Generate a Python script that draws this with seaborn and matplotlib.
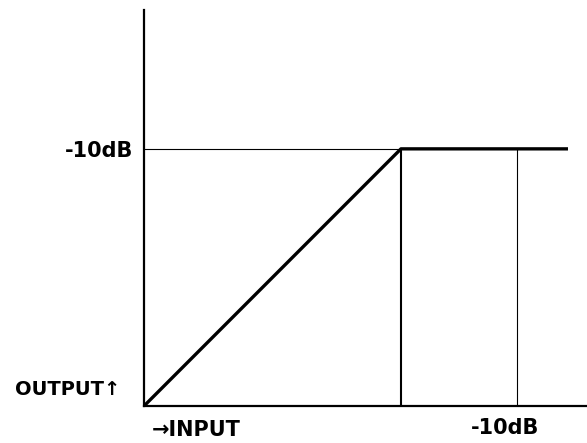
import numpy as np
import matplotlib
matplotlib.use("Agg")
import matplotlib.pyplot as plt
import pandas as pd
import seaborn as sns

# Caractéristique du limiteur (unités arbitraires, coude à -10dB)
input_pts = [0, 10, 16.5]
output_pts = [0, 10, 10]
limit_level = 10
knee_input = 10
marker_input = 14.5
x_max = 17.24
y_max = 15.4
level_label = "-10dB"
x_label = "\u2192INPUT"
y_label = "OUTPUT\u2191"

sns.set_style("white")
plt.rcParams['font.family'] = ['DejaVu Sans']
plt.rcParams['text.color'] = 'black'
plt.rcParams['ytick.color'] = 'black'

fig = plt.figure(figsize=(5.87, 4.43), dpi=100)
ax = fig.add_axes([144 / 587, 37 / 443, 443 / 587, 396 / 443])

curve = pd.DataFrame({'input': input_pts, 'output': output_pts})

# lignes de repère fines
ax.hlines(limit_level, 0, knee_input, color='black', lw=0.8)
ax.vlines(marker_input, 0, limit_level, color='black', lw=0.8)
ax.vlines(knee_input, 0, limit_level, color='black', lw=1.5)

# courbe principale
sns.lineplot(data=curve, x='input', y='output', ax=ax, color='black',
             lw=2.4, solid_capstyle='butt')

ax.set_xlim(0, x_max)
ax.set_ylim(0, y_max)

for side in ['top', 'right']:
    ax.spines[side].set_visible(False)
for side in ['left', 'bottom']:
    ax.spines[side].set_linewidth(1.6)
    ax.spines[side].set_color('black')

ax.set_yticks([limit_level])
ax.set_yticklabels([level_label], fontsize=15, fontweight='bold', color='black')
ax.tick_params(axis='y', length=0, pad=8)
ax.set_xticks([])
ax.set_xlabel('')
ax.set_ylabel('')

ax.text(-0.93, 0.66, y_label, ha='right', va='center', fontsize=14,
        fontweight='bold', color='black', clip_on=False)
ax.text(0.31, -0.93, x_label, ha='left', va='center', fontsize=15,
        fontweight='bold', color='black', clip_on=False)
ax.text(marker_input - 0.45, -0.86, level_label, ha='center', va='center',
        fontsize=15, fontweight='bold', color='black', clip_on=False)

fig.savefig('out.png', dpi=100)
